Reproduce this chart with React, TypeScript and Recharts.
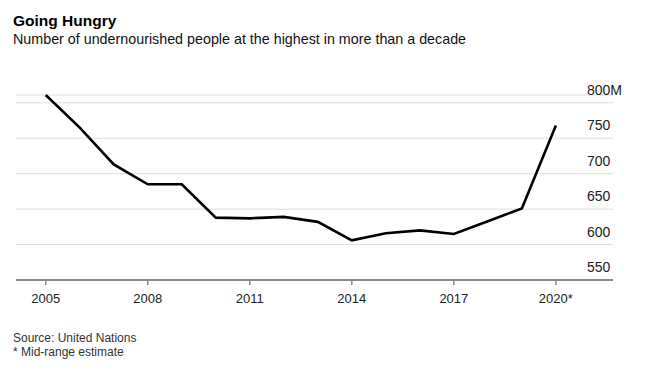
import { LineChart, Line, XAxis, YAxis, CartesianGrid } from 'recharts';

const years = [2005, 2006, 2007, 2008, 2009, 2010, 2011, 2012, 2013, 2014, 2015, 2016, 2017, 2018, 2019, 2020];
const undernourished = [811, 765, 713, 685, 685, 638, 637, 639, 632, 606, 616, 620, 615, 633, 651, 768];
const xTicks = [2005, 2008, 2011, 2014, 2017, 2020];
const yTicks = [550, 600, 650, 700, 750, 800];

const data = years.map((year, i) => ({ year, value: undernourished[i] }));

const FONT = '"Liberation Sans", Arial, Helvetica, sans-serif';

function xLabel(v: number) {
  return v === 2020 ? '2020*' : String(v);
}

function YTick(props: any) {
  const { x, y, payload } = props;
  const label = payload.value === 800 ? '800M' : String(payload.value);
  return (
    <text x={x - 26} y={y - 8} textAnchor="start" fontSize={14} fill="#222" fontFamily={FONT}>
      {label}
    </text>
  );
}

function XTick(props: any) {
  const { x, y, payload } = props;
  return (
    <text x={x} y={y + 18} textAnchor="middle" fontSize={13} fill="#222" fontFamily={FONT}>
      {xLabel(payload.value)}
    </text>
  );
}

export default function App() {
  return (
    <div style={{ position: 'absolute', left: 0, top: 0, width: 647, height: 377, background: '#fff', fontFamily: FONT }}>
      <svg width={647} height={377} style={{ position: 'absolute', left: 0, top: 0 }}>
        <text x={13} y={26} fontSize={15.5} fontWeight="bold" fill="#000" fontFamily={FONT}>
          Going Hungry
        </text>
        <text x={13} y={44} fontSize={14.3} fill="#111" fontFamily={FONT}>
          Number of undernourished people at the highest in more than a decade
        </text>
        <text x={13} y={342} fontSize={12} fill="#333" fontFamily={FONT}>
          Source: United Nations
        </text>
        <text x={13} y={356} fontSize={12} fill="#333" fontFamily={FONT}>
          * Mid-range estimate
        </text>
      </svg>
      <div style={{ position: 'absolute', left: 0, top: 0 }}>
        <LineChart width={647} height={320} data={data} margin={{ top: 95, right: 0, left: 16, bottom: 0 }}>
          <CartesianGrid vertical={false} stroke="#ddd" strokeWidth={1} />
          <XAxis
            dataKey="year"
            type="number"
            domain={[2004.126, 2021.68]}
            ticks={xTicks}
            height={40}
            axisLine={{ stroke: '#8a8a8a', strokeWidth: 2 }}
            tickLine={{ stroke: '#8a8a8a', strokeWidth: 1.5 }}
            tickSize={5}
            tickMargin={0}
            tick={<XTick />}
            interval={0}
          />
          <YAxis
            orientation="right"
            type="number"
            domain={[550, 800]}
            ticks={yTicks}
            width={34}
            axisLine={false}
            tickLine={false}
            tickSize={0}
            tickMargin={0}
            tick={<YTick />}
            interval={0}
          />
          <Line
            type="linear"
            dataKey="value"
            stroke="#000"
            strokeWidth={2.6}
            dot={false}
            isAnimationActive={false}
          />
        </LineChart>
      </div>
    </div>
  );
}
